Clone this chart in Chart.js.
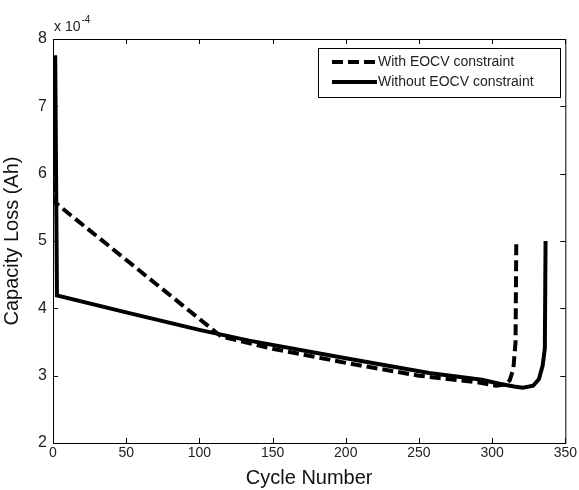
<!DOCTYPE html>
<html>
<head>
<meta charset="utf-8">
<script src="https://cdn.jsdelivr.net/npm/chart.js@4/dist/chart.umd.min.js"></script>
<style>
    html, body { margin: 0; padding: 0; background: #fff; }
    #wrap { width: 579px; height: 490px; }
</style>
</head>
<body>
<div id="wrap"><canvas id="chart" width="579" height="490"></canvas></div>
<script>
// 값은 x 10^-4 Ah 단위
const
    X_TICKS = [0, 50, 100, 150, 200, 250, 300, 350],
    Y_TICKS = [2, 3, 4, 5, 6, 7, 8],
    WITH_CYCLES = [1, 1.5, 115, 150, 200, 250, 290, 303, 309, 312, 314.5, 316, 316.5],
    WITH_LOSS = [6.85, 5.57, 3.58, 3.40, 3.19, 3.00, 2.90, 2.85, 2.87, 2.93, 3.10, 3.50, 5.00],
    WITHOUT_CYCLES = [1.5, 2.7, 50, 100, 134, 200, 257, 293, 305, 315, 321, 328, 332, 334.5, 336, 336.5],
    WITHOUT_LOSS = [7.76, 4.19, 3.94, 3.68, 3.52, 3.26, 3.04, 2.94, 2.88, 2.84, 2.82, 2.85, 2.95, 3.15, 3.40, 5.00],
    LEGEND_LABELS = ['With EOCV constraint', 'Without EOCV constraint'];

const FONT = 'Liberation Sans, Arial, sans-serif';

function toPoints(xs, ys) {
    return xs.map((x, i) => ({ x, y: ys[i] }));
}

// MATLAB 스타일: 안쪽 눈금, 테두리 상자, 지수 표기
const matlabFrame = {
    id: 'matlabFrame',
    afterDraw(chart) {
        const { ctx, chartArea: a, scales: { x, y } } = chart;
        ctx.save();
        ctx.strokeStyle = '#000';
        ctx.lineWidth = 1;
        ctx.strokeRect(a.left + 0.5, a.top + 0.5, a.right - a.left, a.bottom - a.top);
        ctx.beginPath();
        X_TICKS.forEach(v => {
            const px = Math.round(x.getPixelForValue(v)) + 0.5;
            ctx.moveTo(px, a.bottom); ctx.lineTo(px, a.bottom - 5);
            ctx.moveTo(px, a.top); ctx.lineTo(px, a.top + 5);
        });
        Y_TICKS.forEach(v => {
            const py = Math.round(y.getPixelForValue(v)) + 0.5;
            ctx.moveTo(a.left, py); ctx.lineTo(a.left + 5, py);
            ctx.moveTo(a.right, py); ctx.lineTo(a.right - 5, py);
        });
        ctx.stroke();

        ctx.fillStyle = '#222';
        ctx.textBaseline = 'alphabetic';
        ctx.textAlign = 'left';
        ctx.font = '14px ' + FONT;
        ctx.fillText('x 10', a.left + 1, a.top - 8);
        const w = ctx.measureText('x 10').width;
        ctx.font = '10px ' + FONT;
        ctx.fillText('-4', a.left + 2 + w, a.top - 16);

        // 범례
        const box = { left: 318, top: 48, right: 560, bottom: 97 };
        ctx.fillStyle = '#fff';
        ctx.fillRect(box.left, box.top, box.right - box.left, box.bottom - box.top);
        ctx.strokeStyle = '#000';
        ctx.lineWidth = 1;
        ctx.strokeRect(box.left + 0.5, box.top + 0.5, box.right - box.left, box.bottom - box.top);
        chart.data.datasets.forEach((ds, i) => {
            const ly = 62 + i * 20;
            ctx.beginPath();
            ctx.lineWidth = 4;
            ctx.setLineDash(ds.borderDash || []);
            ctx.moveTo(332, ly); ctx.lineTo(377, ly);
            ctx.stroke();
            ctx.setLineDash([]);
            ctx.fillStyle = '#222';
            ctx.font = '14px ' + FONT;
            ctx.textBaseline = 'middle';
            ctx.fillText(LEGEND_LABELS[i], 378, ly);
        });
        ctx.restore();
    },
};

new Chart(document.getElementById('chart'), {
    type: 'line',
    data: {
        datasets: [
            {
                label: LEGEND_LABELS[0],
                data: toPoints(WITH_CYCLES, WITH_LOSS),
                borderColor: '#000',
                borderWidth: 4,
                borderDash: [11, 5],
                pointRadius: 0,
                tension: 0,
            },
            {
                label: LEGEND_LABELS[1],
                data: toPoints(WITHOUT_CYCLES, WITHOUT_LOSS),
                borderColor: '#000',
                borderWidth: 4,
                pointRadius: 0,
                tension: 0,
            },
        ],
    },
    options: {
        responsive: false,
        animation: false,
        layout: { padding: { top: 39, right: 13, left: 0, bottom: 0 } },
        plugins: {
            legend: { display: false },
            tooltip: { enabled: false },
        },
        scales: {
            x: {
                type: 'linear',
                min: 0,
                max: 350,
                afterBuildTicks: s => { s.ticks = X_TICKS.map(value => ({ value })); },
                afterFit: s => { s.height = 47; },
                grid: { display: false, drawTicks: false },
                border: { display: false },
                ticks: { color: '#222', font: { family: FONT, size: 14 }, padding: 2, maxRotation: 0 },
                title: { display: true, text: 'Cycle Number', color: '#111', font: { family: FONT, size: 20 }, padding: { top: 0, bottom: 0 } },
            },
            y: {
                min: 2,
                max: 8,
                afterBuildTicks: s => { s.ticks = Y_TICKS.map(value => ({ value })); },
                afterFit: s => { s.width = 53; },
                grid: { display: false, drawTicks: false },
                border: { display: false },
                ticks: { color: '#222', font: { family: FONT, size: 16 }, padding: 6 },
                title: { display: true, text: 'Capacity Loss (Ah)', color: '#111', font: { family: FONT, size: 20 }, padding: { top: 0, bottom: 2 } },
            },
        },
    },
    plugins: [matlabFrame],
});
</script>
</body>
</html>
